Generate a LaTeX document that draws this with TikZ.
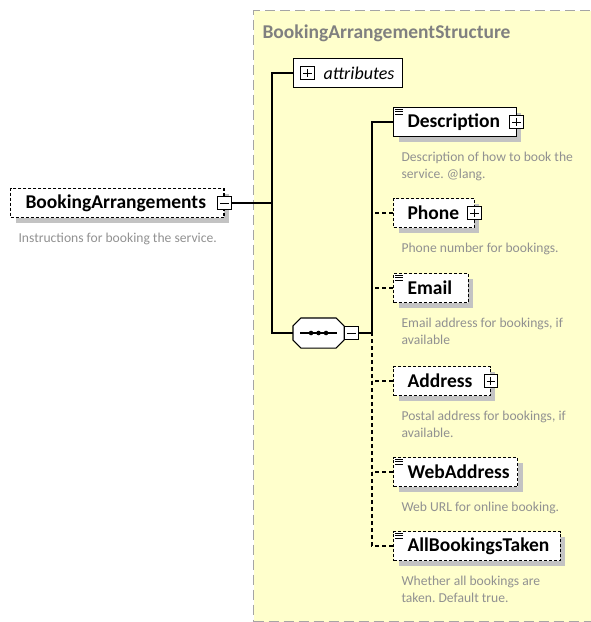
\documentclass[tikz,border=0pt]{standalone}
\usepackage{fontspec}
\setmainfont{Carlito}
\usetikzlibrary{positioning,shadows}

\definecolor{groupfill}{RGB}{255,255,204}
\definecolor{groupline}{RGB}{165,165,165}
\definecolor{titlegray}{RGB}{128,128,128}
\definecolor{notegray}{RGB}{145,145,145}
\definecolor{shadowgray}{RGB}{195,195,195}

\tikzset{
  group/.style={draw=groupline, fill=groupfill, line width=1pt, dash pattern=on 10pt off 5pt},
  grouptitle/.style={text=titlegray, inner sep=0pt, font=\fontsize{19.5}{22}\selectfont\bfseries},
  shade/.style={drop shadow={shadow xshift=5pt, shadow yshift=-5pt, fill=shadowgray, opacity=1}},
  elem/.style={draw, fill=white, shade, minimum height=29pt, inner xsep=14pt, anchor=west,
    font=\fontsize{19.5}{22}\selectfont\bfseries},
  optional/.style={dash pattern=on 3pt off 2pt},
  optline/.style={dash pattern=on 4pt off 3pt},
  note/.style={align=left, inner sep=0pt, text=notegray, font=\fontsize{13.6}{17}\selectfont\frenchspacing},
  expander/.style={draw, fill=white, line width=1pt, minimum size=13.5pt, inner sep=0pt},
  plusbox/.style={expander, path picture={
    \draw[line width=.9pt] ([xshift=2.5pt]path picture bounding box.west) -- ([xshift=-2.5pt]path picture bounding box.east)
      ([yshift=-2.5pt]path picture bounding box.north) -- ([yshift=2.5pt]path picture bounding box.south);}},
  minusbox/.style={expander, path picture={
    \draw[line width=.9pt] ([xshift=2.5pt]path picture bounding box.west) -- ([xshift=-2.5pt]path picture bounding box.east);}},
  seqbox/.style={minimum width=50pt, minimum height=29pt, inner sep=0pt, anchor=west},
}

% little "has data" mark in the top left corner of an element
\newcommand{\datamark}[1]{%
  \foreach \d in {2,4.5,7}
    \draw[line width=.7pt] ([shift={(2pt,-\d pt)}]#1.north west) -- ++(8,0);}
% octagon outline of a compositor node
\newcommand{\octpath}[1]{([xshift=8pt]#1.north west) -- ([xshift=-8pt]#1.north east)
  -- ([yshift=-8pt]#1.north east) -- ([yshift=8pt]#1.south east)
  -- ([xshift=-8pt]#1.south east) -- ([xshift=8pt]#1.south west)
  -- ([yshift=8pt]#1.south west) -- ([yshift=-8pt]#1.north west) -- cycle}

\begin{document}
\begin{tikzpicture}[x=1pt, y=-1pt, line width=1.1pt]
  \useasboundingbox (0,0) rectangle (591,622);

  % complex type
  \node[group, minimum width=350pt, minimum height=611pt, anchor=north west] (grp) at (253,10) {};
  \node[grouptitle, below right=14pt and 9pt of grp.north west] (grptitle) {BookingArrangementStructure};

  % root element
  \node[elem, optional, inner xsep=15pt] (root) at (10,203) {BookingArrangements\kern3pt};
  \node[minusbox] (rootm) at (root.east) {};
  \node[note, below right=14pt and 8pt of root.south west] (rootnote) {Instructions for booking the service.};

  % attributes and sequence
  \node[draw, fill=white, anchor=west, minimum height=29pt, inner xsep=8pt,
    font=\fontsize{18}{20}\selectfont\itshape] (attr) at (293,73) {\hspace*{22pt}attributes};
  \node[plusbox, right=7pt of attr.west] (attrp) {};
  \node[seqbox] (seq) at (293,333) {};
  \fill[shadowgray, shift={(5,5)}] \octpath{seq};
  \draw[fill=white] \octpath{seq};
  \node[minusbox, right=0pt of seq.east] (seqm) {};
  \draw ([xshift=7pt]seq.west) -- ([xshift=-7pt]seq.east);
  \foreach \dx in {-7.5,0,7.5}
    \fill ([xshift=\dx pt]seq.center) circle (2.3);

  \coordinate (spine) at (272,203);
  \coordinate (spinetwo) at (372,333);

  % children
  \node[elem] (desc) at (393,122) {Description\kern2pt};
  \node[plusbox] (descp) at (desc.east) {};
  \datamark{desc}
  \node[note, below right=14pt and 8pt of desc.south west] (descnote) {Description of how to book the\\service. @lang.};

  \node[elem, optional] (phone) at (393,213) {Phone\kern1pt};
  \node[plusbox] (phonep) at (phone.east) {};
  \node[note, below right=14pt and 8pt of phone.south west] (phonenote) {Phone number for bookings.};

  \node[elem, optional] (email) at (393,288) {Email\kern2pt};
  \datamark{email}
  \node[note, below right=14pt and 8pt of email.south west] (emailnote) {Email address for bookings, if\\available};

  \node[elem, optional] (address) at (393,381) {Address\kern4pt};
  \node[plusbox] (addressp) at (address.east) {};
  \node[note, below right=14pt and 8pt of address.south west] (addressnote) {Postal address for bookings, if\\available.};

  \node[elem, optional] (web) at (393,472) {WebAddress\kern-6pt};
  \datamark{web}
  \node[note, below right=14pt and 8pt of web.south west] (webnote) {Web URL for online booking.};

  \node[elem, optional] (all) at (393,546) {AllBookingsTaken\kern-3pt};
  \datamark{all}
  \node[note, below right=14pt and 8pt of all.south west] (allnote) {Whether all bookings are\\taken. Default true.};

  % connectors
  \draw (rootm.east) -- (spine);
  \draw (attr.west) -| (spine) |- (seq.west);
  \draw (seqm.east) -- (spinetwo);
  \draw (desc.west) -| (spinetwo);
  \draw[optline] (all.west) -| (spinetwo);
  \draw[optline] (phone.west) -- (phone.west -| spinetwo);
  \draw[optline] (email.west) -- (email.west -| spinetwo);
  \draw[optline] (address.west) -- (address.west -| spinetwo);
  \draw[optline] (web.west) -- (web.west -| spinetwo);
\end{tikzpicture}
\end{document}
